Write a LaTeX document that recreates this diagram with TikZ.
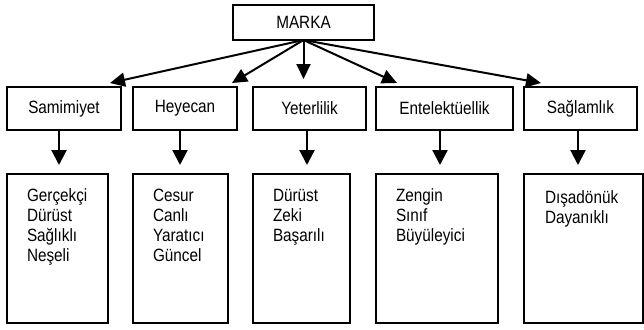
\documentclass[tikz,border=0pt]{standalone}
\usepackage{fontspec}
\setmainfont{Liberation Sans}[FakeStretch=0.86]
\usetikzlibrary{arrows.meta,calc}
\begin{document}
\begin{tikzpicture}[x=1pt,y=-1pt,
  box/.style={draw,line width=1.3pt,inner sep=0pt,outer sep=0pt,anchor=north west,
    font=\fontsize{17.8}{20}\selectfont},
  lst/.style={inner sep=0pt,outer sep=0pt,anchor=north west,align=left,
    font=\fontsize{17.8}{20}\selectfont},
  toparr/.style={line width=2pt,-{Triangle[length=15pt,width=14pt]}},
  downarr/.style={line width=2.2pt,-{Triangle[length=15pt,width=15pt]}}]
\useasboundingbox (0,0) rectangle (644,329);
% top node
\node[box,minimum width=141,minimum height=35] (marka) at (233,5) {MARKA};
% category boxes
\node[box,minimum width=114,minimum height=43] (c1) at (7,87) {Samimiyet};
\node[box,minimum width=104,minimum height=43] (c2) at (133,87) {Heyecan};
\node[box,minimum width=113,minimum height=43] (c3) at (253,87) {Yeterlilik};
\node[box,minimum width=137,minimum height=43] (c4) at (376,87) {Entelektüellik};
\node[box,minimum width=113,minimum height=43] (c5) at (524,87) {Sağlamlık};
% bottom boxes
\node[box,minimum width=101,minimum height=149] (b1) at (7,174) {};
\node[box,minimum width=95,minimum height=149] (b2) at (133,174) {};
\node[box,minimum width=97,minimum height=149] (b3) at (253,174) {};
\node[box,minimum width=122,minimum height=149] (b4) at (376,174) {};
\node[box,minimum width=119,minimum height=149] (b5) at (524,174) {};
% lists
\node[lst] (l1) at ($(b1.north west)+(20,15)$) {Gerçekçi\\Dürüst\\Sağlıklı\\Neşeli};
\node[lst] (l2) at ($(b2.north west)+(20,15)$) {Cesur\\Canlı\\Yaratıcı\\Güncel};
\node[lst] (l3) at ($(b3.north west)+(20,15)$) {Dürüst\\Zeki\\Başarılı};
\node[lst] (l4) at ($(b4.north west)+(20,15)$) {Zengin\\Sınıf\\Büyüleyici};
\node[lst] (l5) at ($(b5.north west)+(21,17)$) {Dışadönük\\Dayanıklı};
% top arrow tips
\coordinate (t1) at (110,83);
\coordinate (t2) at (232,83);
\coordinate (t3) at (303.5,79);
\coordinate (t4) at (397,83);
\coordinate (t5) at (541,83);
\foreach \t in {t1,t2,t3,t4,t5}
  \draw[toparr] (marka.south) -- (\t);
% down arrow tips
\coordinate (d1) at (59,165);
\coordinate (d2) at (180,165);
\coordinate (d3) at (307,165);
\coordinate (d4) at (440,165);
\coordinate (d5) at (578,165);
\draw[downarr] (c1.south -| d1) -- (d1);
\draw[downarr] (c2.south -| d2) -- (d2);
\draw[downarr] (c3.south -| d3) -- (d3);
\draw[downarr] (c4.south -| d4) -- (d4);
\draw[downarr] (c5.south -| d5) -- (d5);
\end{tikzpicture}
\end{document}
